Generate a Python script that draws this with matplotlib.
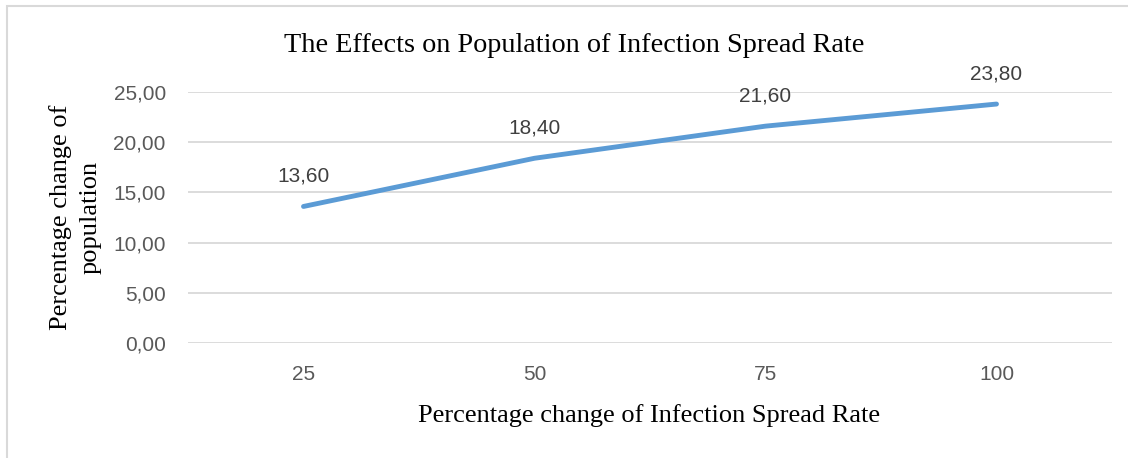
import matplotlib.pyplot as plt
from matplotlib.patches import Rectangle

spread_rate = ["25", "50", "75", "100"]
pop_change = [13.60, 18.40, 21.60, 23.80]
y_ticks = [0, 5, 10, 15, 20, 25]

W, H = 1128, 458
fig = plt.figure(figsize=(W / 100, H / 100), dpi=100)

# light frame round the chart (cut off at right and bottom)
fig.patches.append(Rectangle((7 / W, -0.1), 1.2, 1 - 6 / H + 0.1,
                             transform=fig.transFigure, fill=False,
                             edgecolor="#D9D9D9", linewidth=1.5))

ax = fig.add_axes([188 / W, 1 - 343 / H, (1112 - 188) / W, (343 - 92) / H])

x = range(len(spread_rate))
ax.plot(x, pop_change, color="#5B9BD5", linewidth=3.5, solid_capstyle="round", zorder=3)

for xi, v in zip(x, pop_change):
    ax.annotate(f"{v:.2f}".replace(".", ","), (xi, v), xytext=(0, 18),
                textcoords="offset points", ha="center", va="baseline",
                fontsize=15, color="#404040", family="Liberation Sans")

ax.set_xlim(-0.5, len(spread_rate) - 0.5)
ax.set_ylim(0, 25)
ax.set_yticks(y_ticks)
ax.set_yticklabels([f"{t:.2f}".replace(".", ",") for t in y_ticks])
ax.set_xticks(list(x))
ax.set_xticklabels(spread_rate)
ax.grid(axis="y", color="#D9D9D9", linewidth=1.3)
ax.set_axisbelow(True)
for s in ax.spines.values():
    s.set_visible(False)
ax.tick_params(length=0, labelsize=15, labelcolor="#595959", pad=16)
for lab in ax.get_xticklabels() + ax.get_yticklabels():
    lab.set_family("Liberation Sans")

fig.text(574.5 / W, 1 - 52 / H, "The Effects on Population of Infection Spread Rate",
         ha="center", va="baseline", fontsize=20.3, family="Liberation Serif")
fig.text(649.5 / W, 1 - 422 / H, "Percentage change of Infection Spread Rate",
         ha="center", va="baseline", fontsize=19, family="Liberation Serif")
for bx, line in [(67, "Percentage change of"), (97, "population")]:
    fig.text(bx / W, 1 - 217 / H, line, ha="center", va="baseline",
             rotation=90, rotation_mode="anchor", fontsize=19,
             family="Liberation Serif")

fig.savefig("out.png", dpi=100)
